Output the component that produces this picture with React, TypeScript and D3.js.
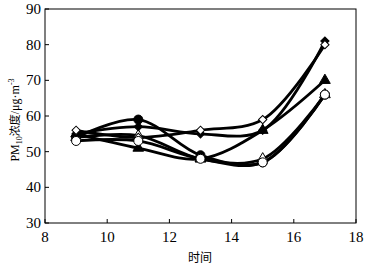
import React from "react";
import * as d3 from "d3";

const hours = [9, 11, 13, 15, 17];
const filledCircle = [54, 59, 49, 47, 66];
const openCircle = [53, 53, 48, 47, 66];
const openTriangle = [54, 54.5, 48, 48, 66];
const filledTriangle = [55, 51, 48, 56, 70];
const filledDiamond = [55, 57, 55, 56, 81];
const openDiamond = [56, 54, 56, 59, 80];
const xTicks = [8, 10, 12, 14, 16, 18];
const yTicks = [30, 40, 50, 60, 70, 80, 90];

type S = { values: number[]; shape: string; fill: string };
const series: S[] = [
  { values: filledCircle, shape: "circle", fill: "#000" },
  { values: openTriangle, shape: "triangle", fill: "#fff" },
  { values: filledTriangle, shape: "triangle", fill: "#000" },
  { values: filledDiamond, shape: "diamond", fill: "#000" },
  { values: openDiamond, shape: "diamond", fill: "#fff" },
  { values: openCircle, shape: "circle", fill: "#fff" },
];

const W = 368, H = 267;
const L = 45, R = 356, T = 9, B = 223;

export default function App() {
  const x = d3.scaleLinear().domain([8, 18]).range([L, R]);
  const y = d3.scaleLinear().domain([30, 90]).range([B, T]);
  const line = d3
    .line<number>()
    .x((_, i) => x(hours[i]))
    .y((v) => y(v))
    .curve(d3.curveCatmullRom.alpha(0.5));
  const sym = (shape: string) => {
    const t = shape === "circle" ? d3.symbolCircle : shape === "triangle" ? d3.symbolTriangle : d3.symbolSquare;
    const size = shape === "circle" ? 64 : shape === "triangle" ? 50 : 34;
    return d3.symbol().type(t).size(size)()!;
  };
  const serif = { fontFamily: "Liberation Serif, DejaVu Serif, serif" };
  const cjk = { fontFamily: "Noto Sans CJK SC, sans-serif" };
  return (
    <svg width={W} height={H} style={{ position: "absolute", left: 0, top: 0, background: "#fff" }}>
      <rect x={L} y={T} width={R - L} height={B - T} fill="none" stroke="#000" strokeWidth={1} />
      {yTicks.map((t) => (
        <g key={"y" + t}>
          <line x1={L} x2={L + 4} y1={y(t)} y2={y(t)} stroke="#000" />
          <text x={L - 4} y={y(t) + 5} textAnchor="end" style={serif} fontSize={15}>{t}</text>
        </g>
      ))}
      {xTicks.map((t) => (
        <g key={"x" + t}>
          <line x1={x(t)} x2={x(t)} y1={B} y2={B - 4} stroke="#000" />
          <text x={x(t)} y={B + 19} textAnchor="middle" style={serif} fontSize={15}>{t}</text>
        </g>
      ))}
      <text x={200} y={262} textAnchor="middle" style={cjk} fontSize={12}>时间</text>
      <text transform={`translate(19, 120) rotate(-90)`} textAnchor="middle" style={serif} fontSize={12}>
        PM<tspan fontSize={8} dy={3}>10</tspan><tspan dy={-3} style={cjk} fontSize={11}>浓度</tspan>/μg·m<tspan fontSize={8} dy={-5}>-3</tspan>
      </text>
      {series.map((s, i) => (
        <path key={"l" + i} d={line(s.values) || ""} fill="none" stroke="#000" strokeWidth={2.8} />
      ))}
      {series.map((s, i) =>
        s.values.map((v, j) => (
          <path
            key={"m" + i + "-" + j}
            d={sym(s.shape)}
            transform={`translate(${x(hours[j])},${y(v)})${s.shape === "diamond" ? " rotate(45)" : ""}`}
            fill={s.fill}
            stroke="#000"
            strokeWidth={1}
          />
        ))
      )}
    </svg>
  );
}
